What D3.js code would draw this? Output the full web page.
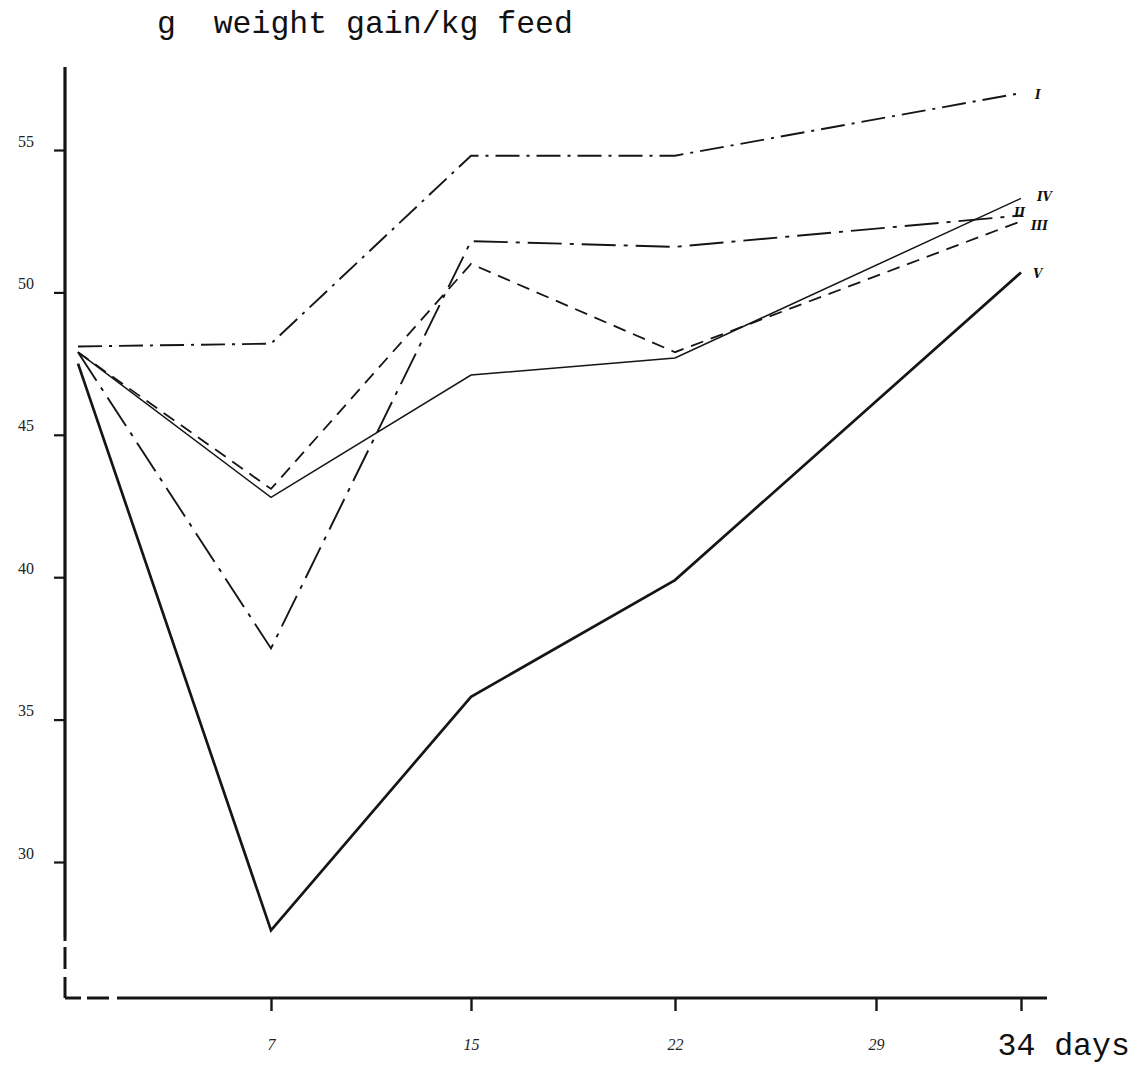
<!DOCTYPE html>
<html>
<head>
<meta charset="utf-8">
<script src="https://cdn.jsdelivr.net/npm/d3@7"></script>
<style>
  body { margin: 0; background: #fff; }
  svg { display: block; }
</style>
</head>
<body>
<svg id="chart" width="1137" height="1065"></svg>
<script>
// Sampling days and axis ticks
const days = [0, 7, 15, 22, 34];
const tickDays = [7, 15, 22, 29, 34];
const tickValues = [30, 35, 40, 45, 50, 55];

// Feed efficiency (g weight gain per kg feed) for each treatment group
const seriesNames = ["I", "II", "III", "IV", "V"];
const valuesI   = [48.1, 48.2, 54.8, 54.8, 57.0];
const valuesII  = [47.9, 37.5, 51.8, 51.6, 52.7];
const valuesIII = [47.9, 43.1, 51.0, 47.9, 52.5];
const valuesIV  = [47.9, 42.8, 47.1, 47.7, 53.3];
const valuesV   = [47.5, 27.6, 35.8, 39.9, 50.7];

const allValues = [valuesI, valuesII, valuesIII, valuesIV, valuesV];

const svg = d3.select("#chart");
const ink = "#151515";

// Hand-spaced day axis: a piecewise scale keeps each labelled day under its tick
const x = d3.scaleLinear()
  .domain([0, 7, 15, 22, 29, 34])
  .range([78, 271, 471, 675, 876, 1021]);

const y = d3.scaleLinear()
  .domain([30, 55])
  .range([862, 150]);

const axisX = 65, axisY = 998;

// Line styles per group
const styles = {
  I:   { width: 1.9, dash: "24,7,3,7" },
  II:  { width: 1.9, dash: "34,8,4,8" },
  III: { width: 1.8, dash: "13,8" },
  IV:  { width: 1.5, dash: null },
  V:   { width: 2.7, dash: null }
};

// Label offsets at the line ends
const labelOffset = {
  I:   [14, 2],
  II:  [-7, -2],
  III: [10, 5],
  IV:  [16, -1],
  V:   [12, 2]
};

// Axes lines: solid with dashed portions near the origin
svg.append("line")
  .attr("x1", axisX).attr("x2", axisX)
  .attr("y1", 67).attr("y2", 937)
  .attr("stroke", ink).attr("stroke-width", 3.2);
svg.append("line")
  .attr("x1", axisX).attr("x2", axisX)
  .attr("y1", 937).attr("y2", axisY)
  .attr("stroke", ink).attr("stroke-width", 3)
  .attr("stroke-dasharray", "4,6,22,8,30,0");
svg.append("line")
  .attr("x1", axisX).attr("x2", 117)
  .attr("y1", axisY).attr("y2", axisY)
  .attr("stroke", ink).attr("stroke-width", 3)
  .attr("stroke-dasharray", "16,6,22,8");
svg.append("line")
  .attr("x1", 117).attr("x2", 1047)
  .attr("y1", axisY).attr("y2", axisY)
  .attr("stroke", ink).attr("stroke-width", 3);

// Y axis ticks and labels
const yAxis = d3.axisLeft(y)
  .tickValues(tickValues)
  .tickSize(11)
  .tickPadding(20);
const gy = svg.append("g")
  .attr("transform", `translate(${axisX},0)`)
  .call(yAxis);
gy.select(".domain").remove();
gy.selectAll(".tick line").attr("stroke", ink).attr("stroke-width", 2.2);
gy.selectAll(".tick text")
  .attr("dy", "-0.25em")
  .attr("fill", "#222")
  .style("font-family", "'Liberation Serif', 'DejaVu Serif', serif")
  .style("font-size", "16px");

// X axis ticks and labels
const xAxis = d3.axisBottom(x)
  .tickValues(tickDays)
  .tickSize(13)
  .tickPadding(28)
  .tickFormat(d => d === 34 ? "34 days" : String(d));
const gx = svg.append("g")
  .attr("transform", `translate(0,${axisY})`)
  .call(xAxis);
gx.select(".domain").remove();
gx.selectAll(".tick line").attr("stroke", ink).attr("stroke-width", 2.4);
gx.selectAll(".tick text")
  .attr("fill", "#222")
  .style("font-family", "'Liberation Serif', 'DejaVu Serif', serif")
  .style("font-style", "italic")
  .style("font-size", "16px");
gx.selectAll(".tick")
  .filter(d => d === 34)
  .select("text")
  .attr("text-anchor", "start")
  .attr("x", -24)
  .attr("y", 24)
  .attr("dy", "1.05em")
  .attr("fill", "#111")
  .style("font-family", "'Liberation Mono', 'DejaVu Sans Mono', monospace")
  .style("font-style", "normal")
  .style("font-size", "31.5px");

// Title
svg.append("text")
  .attr("x", 157)
  .attr("y", 33)
  .attr("fill", "#111")
  .style("font-family", "'Liberation Mono', 'DejaVu Sans Mono', monospace")
  .style("font-size", "31.5px")
  .style("white-space", "pre")
  .attr("xml:space", "preserve")
  .text("g  weight gain/kg feed");

// Series lines
const line = d3.line()
  .x((d, i) => x(days[i]))
  .y(d => y(d));

seriesNames.forEach((name, k) => {
  const vals = allValues[k];
  const st = styles[name];
  svg.append("path")
    .datum(vals)
    .attr("d", line)
    .attr("fill", "none")
    .attr("stroke", ink)
    .attr("stroke-width", st.width)
    .attr("stroke-linejoin", "miter")
    .attr("stroke-dasharray", st.dash);

  const last = vals[vals.length - 1];
  const off = labelOffset[name];
  svg.append("text")
    .attr("x", x(days[days.length - 1]) + off[0])
    .attr("y", y(last) + off[1])
    .attr("dominant-baseline", "middle")
    .attr("fill", "#111")
    .style("font-family", "'DejaVu Serif', 'Liberation Serif', serif")
    .style("font-weight", "bold")
    .style("font-style", "italic")
    .style("font-size", "12px")
    .text(name);
});
</script>
</body>
</html>
